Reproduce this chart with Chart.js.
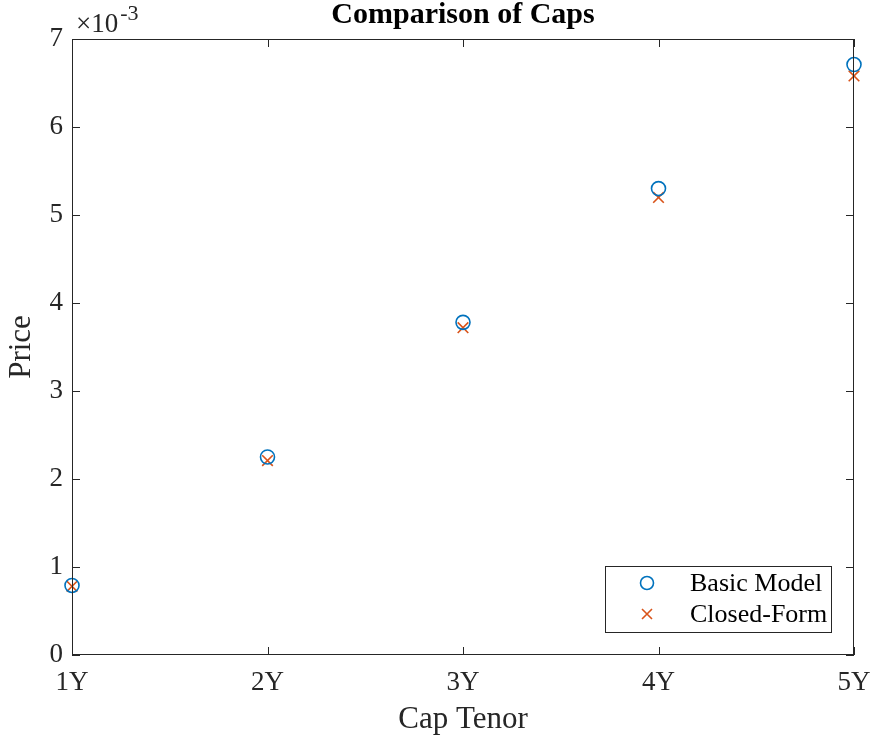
<!DOCTYPE html>
<html>
<head>
<meta charset="utf-8">
<script src="https://cdn.jsdelivr.net/npm/chart.js@4/dist/chart.umd.min.js"></script>
<style>
html,body{margin:0;padding:0;background:#fff;}
#wrap{width:873px;height:741px;}
</style>
</head>
<body>
<div id="wrap"><canvas id="c" width="873" height="741"></canvas></div>
<script>
// ---- data ----
const categories = ['1Y', '2Y', '3Y', '4Y', '5Y'];
const tenorYears = [1, 2, 3, 4, 5];
const basicModel = [0.00079, 0.00225, 0.00378, 0.00530, 0.00671];
const closedForm = [0.00078, 0.00221, 0.00372, 0.00520, 0.00658];
const yTickValues = [0, 0.001, 0.002, 0.003, 0.004, 0.005, 0.006, 0.007];
const seriesNames = ['Basic Model', 'Closed-Form'];
const titleText = 'Comparison of Caps';
const xTitle = 'Cap Tenor';
const yTitle = 'Price';

const FONT = '"Liberation Serif", "Times New Roman", serif';
const AXIS = '#262626';
const BLUE = '#0072BD';
const ORANGE = '#D95319';

const toPts = (arr) => arr.map((v, i) => ({ x: tenorYears[i], y: v }));

const decor = {
  id: 'decor',
  afterDraw(chart) {
    const ctx = chart.ctx;
    const a = chart.chartArea;
    const xs = chart.scales.x, ys = chart.scales.y;
    ctx.save();
    // box
    ctx.strokeStyle = AXIS;
    ctx.lineWidth = 1;
    ctx.strokeRect(a.left + 0.5, a.top + 0.5, a.right - a.left - 1, a.bottom - a.top - 1);
    // ticks (inward, both sides)
    const tl = 8;
    ctx.beginPath();
    tenorYears.forEach(v => {
      const px = Math.round(xs.getPixelForValue(v)) + 0.5;
      ctx.moveTo(px, a.bottom); ctx.lineTo(px, a.bottom - tl);
      ctx.moveTo(px, a.top); ctx.lineTo(px, a.top + tl);
    });
    yTickValues.forEach(v => {
      const py = Math.round(ys.getPixelForValue(v)) + 0.5;
      ctx.moveTo(a.left, py); ctx.lineTo(a.left + tl, py);
      ctx.moveTo(a.right, py); ctx.lineTo(a.right - tl, py);
    });
    ctx.stroke();
    // exponent label
    ctx.fillStyle = AXIS;
    ctx.textBaseline = 'alphabetic';
    ctx.textAlign = 'left';
    ctx.font = '27px ' + FONT;
    ctx.fillText('\u00d710', 76, 32);
    const w = ctx.measureText('\u00d710').width;
    ctx.font = '22px ' + FONT;
    ctx.fillText('-3', 76 + w + 2, 20);
    // title
    ctx.fillStyle = '#000';
    ctx.font = 'bold 30px ' + FONT;
    ctx.textAlign = 'center';
    ctx.fillText(titleText, (a.left + a.right) / 2, 23);
    // legend
    const lx = 605, ly = 566, lw = 226, lh = 66;
    ctx.fillStyle = '#fff';
    ctx.fillRect(lx, ly, lw, lh);
    ctx.strokeStyle = AXIS;
    ctx.lineWidth = 1;
    ctx.strokeRect(lx + 0.5, ly + 0.5, lw, lh);
    const rows = [583, 614];
    ctx.strokeStyle = BLUE; ctx.lineWidth = 1.6;
    ctx.beginPath(); ctx.arc(647, rows[0], 6.5, 0, Math.PI * 2); ctx.stroke();
    ctx.strokeStyle = ORANGE;
    ctx.beginPath();
    ctx.moveTo(647 - 5, rows[1] - 5); ctx.lineTo(647 + 5, rows[1] + 5);
    ctx.moveTo(647 - 5, rows[1] + 5); ctx.lineTo(647 + 5, rows[1] - 5);
    ctx.stroke();
    ctx.fillStyle = '#000';
    ctx.font = '26px ' + FONT;
    ctx.textAlign = 'left';
    ctx.textBaseline = 'middle';
    seriesNames.forEach((n, i) => ctx.fillText(n, 690, rows[i] + 1));
    ctx.restore();
  }
};

new Chart(document.getElementById('c'), {
  type: 'scatter',
  data: {
    datasets: [
      {
        label: seriesNames[0],
        data: toPts(basicModel),
        pointStyle: 'circle',
        pointRadius: 7,
        borderColor: BLUE,
        backgroundColor: 'rgba(0,0,0,0)',
        borderWidth: 1.6,
        clip: false
      },
      {
        label: seriesNames[1],
        data: toPts(closedForm),
        pointStyle: 'crossRot',
        pointRadius: 7.5,
        borderColor: ORANGE,
        backgroundColor: ORANGE,
        borderWidth: 1.6,
        clip: false
      }
    ]
  },
  options: {
    responsive: false,
    animation: false,
    devicePixelRatio: 1,
    layout: { autoPadding: false, padding: { top: 39, right: 19, left: 0, bottom: 0 } },
    plugins: { legend: { display: false }, tooltip: { enabled: false }, title: { display: false } },
    scales: {
      x: {
        type: 'linear',
        min: 1, max: 5,
        afterFit(s) { s.height = 86; s.paddingLeft = 0; s.paddingRight = 0; },
        afterBuildTicks(s) { s.ticks = tenorYears.map(v => ({ value: v })); },
        grid: { display: false, drawTicks: false },
        border: { display: false },
        ticks: {
          padding: 12,
          color: AXIS,
          font: { family: FONT, size: 27 },
          maxRotation: 0,
          callback: (v) => categories[tenorYears.indexOf(v)] || ''
        },
        title: { display: true, text: xTitle, color: AXIS, font: { family: FONT, size: 31 }, padding: { top: 4, bottom: 3 } }
      },
      y: {
        type: 'linear',
        min: 0, max: 0.007,
        afterFit(s) { s.width = 72; s.paddingTop = 0; s.paddingBottom = 0; },
        afterBuildTicks(s) { s.ticks = yTickValues.map(v => ({ value: v })); },
        grid: { display: false, drawTicks: false },
        border: { display: false },
        ticks: {
          padding: 9,
          color: AXIS,
          font: { family: FONT, size: 27 },
          callback: (v) => String(Math.round(v * 1000))
        },
        title: { display: true, text: yTitle, color: AXIS, font: { family: FONT, size: 31 }, padding: { top: 3, bottom: 4 } }
      }
    }
  },
  plugins: [decor]
});
</script>
</body>
</html>
